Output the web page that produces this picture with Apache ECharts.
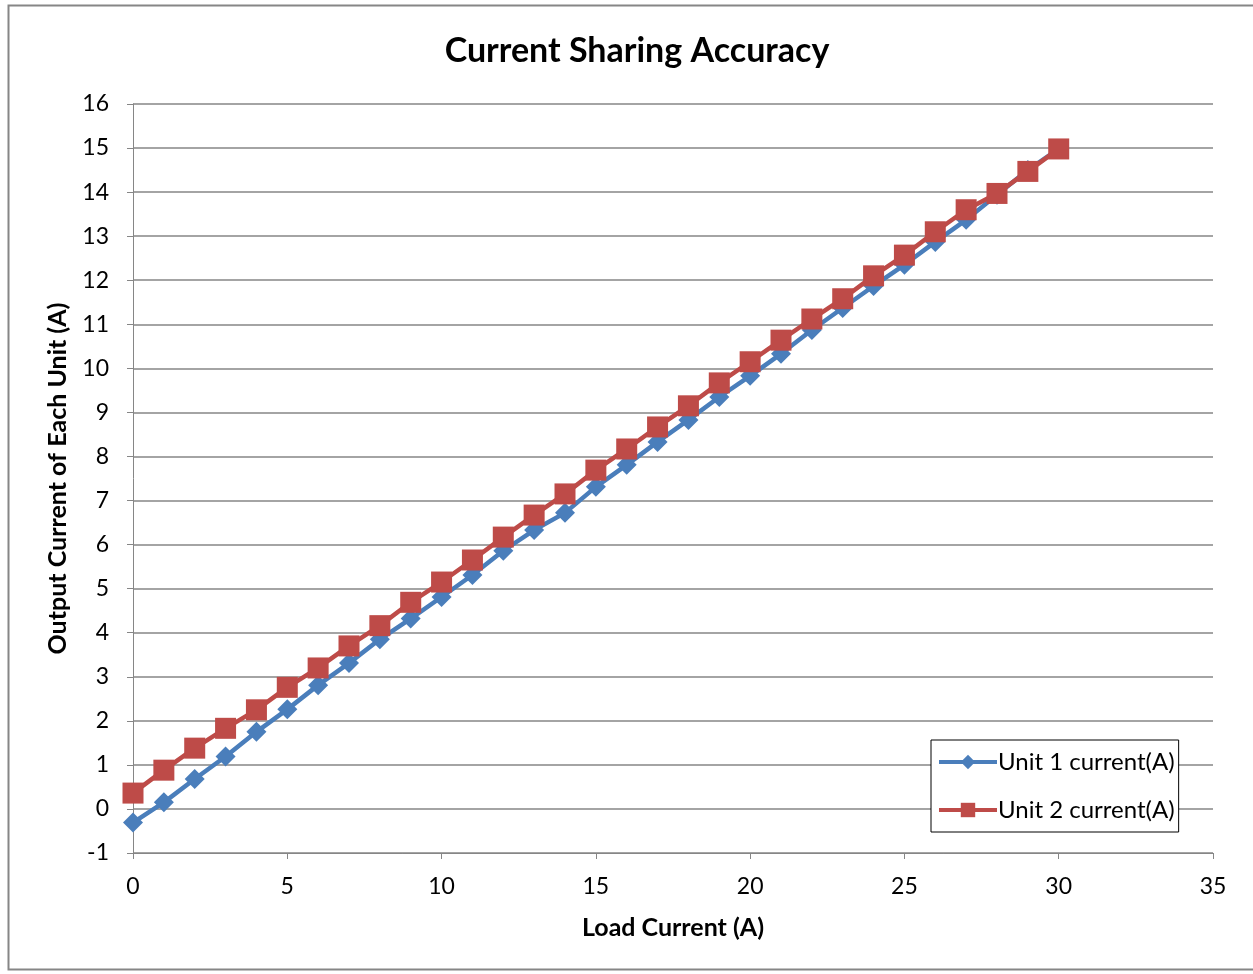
<!DOCTYPE html>
<html><head><meta charset="utf-8">
<script src="https://cdn.jsdelivr.net/npm/echarts@6/dist/echarts.min.js"></script>
<style>html,body{margin:0;padding:0;background:#fff}#c{width:1253px;height:974px}</style>
</head><body><div id="c"></div>
<script>
const loadCurrent = [0,1,2,3,4,5,6,7,8,9,10,11,12,13,14,15,16,17,18,19,20,21,22,23,24,25,26,27,28,29,30];
const unit1 = [-0.31,0.15,0.68,1.19,1.75,2.26,2.81,3.31,3.85,4.32,4.81,5.31,5.86,6.33,6.72,7.31,7.81,8.33,8.83,9.35,9.83,10.33,10.87,11.37,11.87,12.35,12.87,13.37,13.94,14.5,14.98];
const unit2 = [0.36,0.88,1.38,1.83,2.25,2.76,3.2,3.7,4.16,4.69,5.15,5.65,6.17,6.67,7.15,7.69,8.17,8.67,9.15,9.67,10.15,10.64,11.12,11.58,12.1,12.57,13.1,13.6,13.97,14.47,14.98];
const seriesNames = ['Unit 1 current(A)','Unit 2 current(A)'];
const xTicks = [0,5,10,15,20,25,30,35];
const yTicks = [-1,0,1,2,3,4,5,6,7,8,9,10,11,12,13,14,15,16];

const FONT = 'Lato, "Open Sans", sans-serif';
const chart = echarts.init(document.getElementById('c'));
chart.setOption({
  backgroundColor:'#fff',
  animation:false,
  graphic:[{type:'rect',shape:{x:8.5,y:5.5,width:1260,height:964},style:{fill:'none',stroke:'#868686',lineWidth:2}}],
  title:{text:'Current Sharing Accuracy',left:632,textAlign:'center',top:29,
    textStyle:{fontFamily:FONT,fontSize:34,fontWeight:'bold',color:'#000'}},
  grid:{left:133,right:40,top:104,bottom:121},
  legend:{orient:'vertical',left:931,top:740,width:254,
    padding:[10,4,10,6],itemGap:24,itemWidth:58,itemHeight:18,
    borderColor:'#000',borderWidth:1,backgroundColor:'#fff',
    lineStyle:{width:4},
    textStyle:{fontFamily:FONT,fontSize:24,color:'#000',padding:[0,0,0,-4]},
    data:seriesNames},
  xAxis:{type:'value',min:xTicks[0],max:xTicks[xTicks.length-1],interval:5,
    name:'Load Current (A)',nameLocation:'middle',nameGap:62,
    nameTextStyle:{fontFamily:FONT,fontSize:25,fontWeight:'bold',color:'#000'},
    axisLine:{onZero:false,lineStyle:{color:'#868686',width:1}},
    axisTick:{show:true,length:6,lineStyle:{color:'#868686'}},
    axisLabel:{fontFamily:FONT,fontSize:23,color:'#000',margin:22},
    splitLine:{show:false}},
  yAxis:{type:'value',min:yTicks[0],max:yTicks[yTicks.length-1],interval:1,
    name:'Output Current of Each Unit (A)',nameLocation:'middle',nameGap:63,nameRotate:90,
    nameTextStyle:{fontFamily:FONT,fontSize:25,fontWeight:'bold',color:'#000'},
    axisLine:{show:true,lineStyle:{color:'#868686',width:1}},
    axisTick:{show:true,length:6,lineStyle:{color:'#868686'}},
    axisLabel:{fontFamily:FONT,fontSize:23,color:'#000',margin:24},
    splitLine:{show:true,lineStyle:{color:'#868686',width:1.5}}},
  series:[
    {name:seriesNames[0],type:'line',data:loadCurrent.map((x,i)=>[x,unit1[i]]),
      symbol:'diamond',symbolSize:20,color:'#4A7EBB',
      lineStyle:{width:4.5,color:'#4A7EBB'},itemStyle:{color:'#4A7EBB'}},
    {name:seriesNames[1],type:'line',data:loadCurrent.map((x,i)=>[x,unit2[i]]),
      symbol:'rect',symbolSize:21,color:'#BE4B48',
      lineStyle:{width:4.5,color:'#BE4B48'},itemStyle:{color:'#BE4B48'}}
  ]
});
</script></body></html>
